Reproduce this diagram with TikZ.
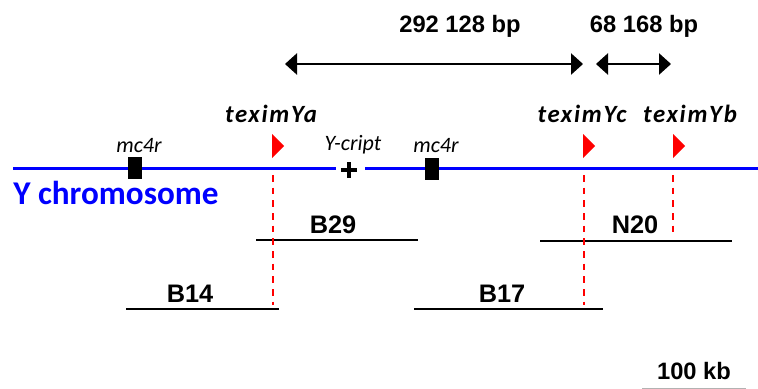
\documentclass[tikz,border=0pt]{standalone}
\usepackage{fontspec}
\setmainfont{Carlito}
\newfontfamily\arialfont{Liberation Sans}
\newfontfamily\genefont[LetterSpace=7]{Carlito}
\usetikzlibrary{arrows.meta}
\tikzset{
	chrom/.style={blue, line width=2.25pt},
	clone/.style={line width=1.9pt},
	guide/.style={red, line width=1.1pt, dash pattern=on 5pt off 4.5pt},
	dim/.style={line width=1.1pt, {Triangle[length=9pt,width=16pt]}-{Triangle[length=9pt,width=16pt]}},
	genelab/.style={anchor=base, inner sep=0pt, font=\genefont\fontsize{18.6}{22}\selectfont\bfseries\itshape},
	marklab/.style={anchor=base, inner sep=0pt, font=\fontsize{16.5}{20}\selectfont\itshape},
	clonelab/.style={anchor=base, inner sep=0pt, font=\arialfont\fontsize{19}{23}\selectfont\bfseries},
	sizelab/.style={anchor=base, inner sep=0pt, font=\arialfont\fontsize{17.8}{21}\selectfont\bfseries}
}
\begin{document}
\begin{tikzpicture}[x=0.75pt, y=-0.75pt]
					\useasboundingbox (0,0) rectangle (758,389);

					% chromosome
					\coordinate (c0) at (13,168);
					\coordinate (c1) at (336,168);
					\coordinate (c2) at (365,168);
					\coordinate (c3) at (758,168);
					\draw[chrom] (c0) -- (c1) (c2) -- (c3);
					\node[anchor=base west, inner sep=0pt, text=blue, font=\fontsize{24.9}{30}\selectfont\bfseries] (chr) at (13,204) {Y chromosome};

					% markers
					\fill (128,157) rectangle (142,179);
					\fill (425,158) rectangle (439,180);
					\node[marklab] (mca) at (139,152) {mc4r};
					\node[marklab] (mcb) at (436,152) {mc4r};
					\draw[line width=3pt] (341,170) -- (357,170) (349,162) -- (349,178);
					\node[marklab] (ycr) at (353,150) {Y-cript};

					% texim genes
					\fill[red] (272,134) -- ++(12,12) -- ++(-12,12) -- cycle;
					\fill[red] (583,134) -- ++(12,12) -- ++(-12,12) -- cycle;
					\fill[red] (673,134) -- ++(12,12) -- ++(-12,12) -- cycle;
					\node[genelab] (ya) at (271,122) {teximYa};
					\node[genelab] (yc) at (582,122) {teximYc};
					\node[genelab] (yb) at (690,122) {teximYb};

					% distances
					\coordinate (d1) at (285,64);
					\coordinate (d2) at (583,64);
					\coordinate (d3) at (596,64);
					\coordinate (d4) at (671,64);
					\draw[dim] (d1) -- (d2);
					\draw[dim] (d3) -- (d4);
					\node[sizelab] (s1) at (460,32) {292 128 bp};
					\node[sizelab] (s2) at (644,32) {68 168 bp};

					% clones
					\coordinate (b29l) at (256,240); \coordinate (b29r) at (418,240);
					\coordinate (n20l) at (540,241); \coordinate (n20r) at (732,241);
					\coordinate (b14l) at (126,309); \coordinate (b14r) at (279,309);
					\coordinate (b17l) at (414,309); \coordinate (b17r) at (603,309);
					\draw[clone] (b29l) -- (b29r) (n20l) -- (n20r) (b14l) -- (b14r) (b17l) -- (b17r);
					\node[clonelab] (b29) at (333,233) {B29};
					\node[clonelab] (n20) at (635,233) {N20};
					\node[clonelab] (b14) at (190,302) {B14};
					\node[clonelab] (b17) at (502,302) {B17};

					% guides from the genes
					\coordinate (ga) at (273,175); \coordinate (gae) at (273,305);
					\coordinate (gc) at (584,175); \coordinate (gce) at (584,305);
					\coordinate (gb) at (673,175); \coordinate (gbe) at (673,234);
					\draw[guide] (ga) -- (gae) (gc) -- (gce) (gb) -- (gbe);

					% scale
					\node[sizelab] (kb) at (694,379) {100 kb};
					\coordinate (k1) at (642,388); \coordinate (k2) at (746,388);
					\draw[gray!60, line width=0.75pt] (k1) -- (k2);
				\end{tikzpicture}
\end{document}
